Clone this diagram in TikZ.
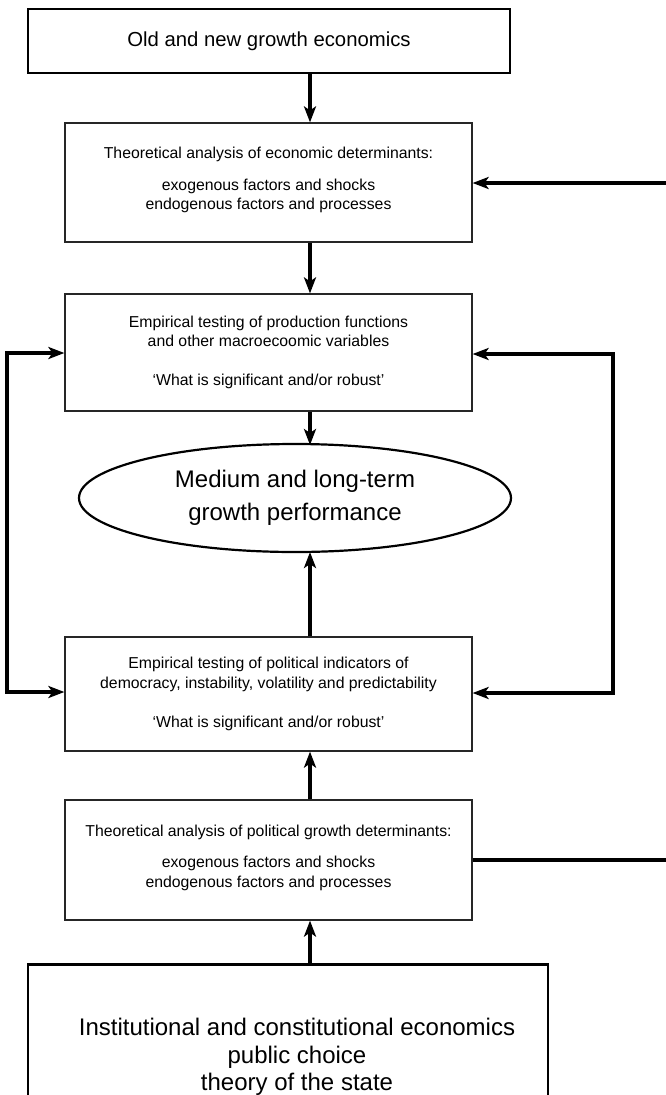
\documentclass[tikz,border=0pt]{standalone}
\usepackage{fontspec}
\setmainfont{Liberation Sans}
\usetikzlibrary{arrows.meta,shapes.geometric}
\begin{document}
\begin{tikzpicture}[x=1pt,y=-1pt,
  bigbox/.style={draw=black,line width=2.8pt,rectangle,inner sep=0pt,align=center,font=\fontsize{20.3}{27}\selectfont},
  midbox/.style={draw=black!85,line width=1.2pt,rectangle,inner sep=0pt,align=center,minimum width=407pt,font=\fontsize{15.8}{19.5}\selectfont},
  arr/.style={line width=3.2pt,-{Stealth[length=16pt,width=12pt,inset=4pt]}},
  dbl/.style={line width=3.2pt,{Stealth[length=16pt,width=12pt,inset=4pt]}-{Stealth[length=16pt,width=12pt,inset=4pt]}},
  ln/.style={line width=3.2pt}]
\useasboundingbox (0,0) rectangle (666,1095);
\begin{scope}
\clip (0,0) rectangle (666,1095);
\node[bigbox,minimum width=482pt,minimum height=64pt] (top) at (269,41) {Old and new growth economics};
\node[midbox,minimum height=119pt] (econ) at (268.5,182.5) {Theoretical analysis of economic determinants:\\[12pt]exogenous factors and shocks\\endogenous factors and processes\\[-12pt]\mbox{}};
\node[midbox,minimum height=117pt] (emp1) at (268.5,352.5) {Empirical testing of production functions\\and other macroecoomic variables\\[19.5pt]‘What is significant and/or robust’};
\node[draw=black,line width=2.2pt,ellipse,minimum width=432pt,minimum height=108pt,inner sep=0pt,align=center,font=\fontsize{24}{33}\selectfont] (perf) at (295,498) {Medium and long-term\\growth performance};
\node[midbox,minimum height=114pt] (emp2) at (268.5,694) {Empirical testing of political indicators of\\democracy, instability, volatility and predictability\\[19.5pt]‘What is significant and/or robust’};
\node[midbox,minimum height=120pt] (pol) at (268.5,860) {Theoretical analysis of political growth determinants:\\[12pt]exogenous factors and shocks\\endogenous factors and processes\\[-12pt]\mbox{}};
\node[bigbox,minimum width=520pt,minimum height=180pt,anchor=north] (inst) at (288,963) {};
\node[align=center,font=\fontsize{24}{27.5}\selectfont,inner sep=0pt] (insttext) at (297,1057) {Institutional and constitutional economics\\public choice\\theory of the state};
\end{scope}
\coordinate (rin) at (666,183);
\coordinate (rout) at (666,860);
\draw[arr] (top.south -| 310,0) -- (econ.north -| 310,0);
\draw[arr] (econ.south -| 310,0) -- (emp1.north -| 310,0);
\draw[arr] (emp1.south -| 310,0) -- (310,445);
\draw[arr] (emp2.north -| 310,0) -- (310,552);
\draw[arr] (pol.north -| 310,0) -- (emp2.south -| 310,0);
\draw[arr] (inst.north -| 310,0) -- (pol.south -| 310,0);
\draw[arr] (rin) -- (econ.east |- rin);
\draw[ln] (pol.east) -- (rout);
\draw[dbl] (emp1.west |- 0,353) -- (7,353) -- (7,692) -- (emp2.west |- 0,692);
\draw[dbl] (emp1.east |- 0,354) -- (613,354) -- (613,693) -- (emp2.east |- 0,693);
\end{tikzpicture}
\end{document}
